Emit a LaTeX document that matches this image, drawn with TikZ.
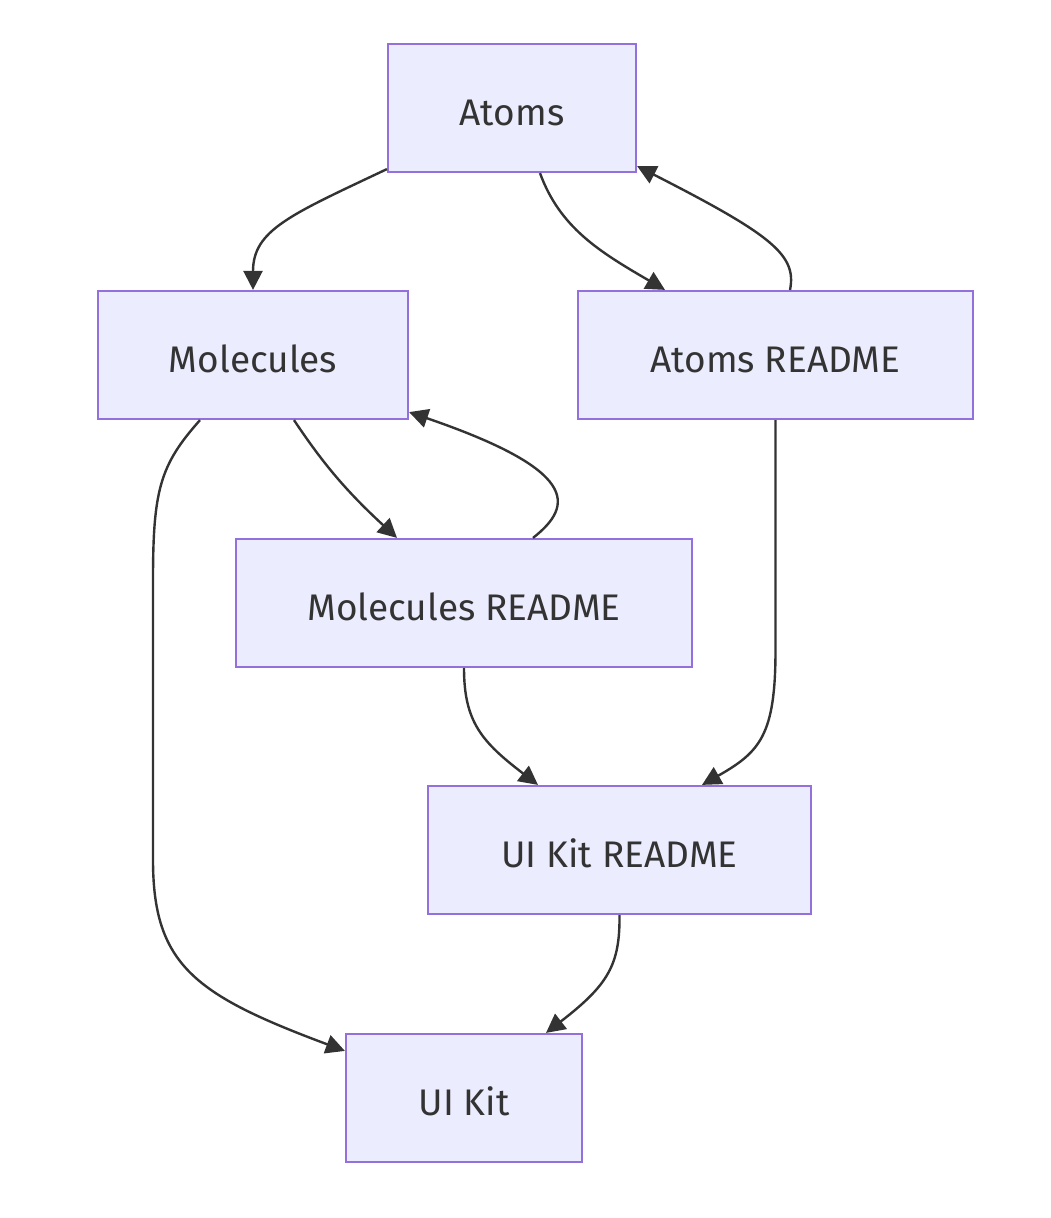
\documentclass[tikz,border=0pt]{standalone}
\usepackage{fontspec}
\setmainfont{Fira Sans}
\usetikzlibrary{arrows.meta}
\definecolor{nodefill}{HTML}{ECECFF}
\definecolor{nodeborder}{HTML}{9370DB}
\definecolor{ink}{HTML}{333333}
\tikzset{
  box/.style={draw=nodeborder, fill=nodefill, line width=2.2pt, minimum height=128pt, inner sep=0pt,
    text height=34pt, text depth=0pt,
    text=ink, font=\fontsize{37}{44}\selectfont},
  link/.style={draw=ink, line width=2.4pt, -{Triangle[length=19pt,width=19pt]}}
}
\begin{document}
\begin{tikzpicture}[x=1pt,y=-1pt]
\useasboundingbox (0,0) rectangle (1050,1218);
\node[box, minimum width=248pt] (A) at (512,108) {Atoms};
\node[box, minimum width=310pt] (M) at (253,355) {Molecules};
\node[box, minimum width=395pt] (AR) at (775.5,355) {Atoms README};
\node[box, minimum width=456pt] (MR) at (464,603) {Molecules README};
\node[box, minimum width=383pt] (UKR) at (619.5,850) {UI Kit README};
\node[box, minimum width=236pt] (UK) at (464,1098) {UI Kit};

\draw[link] ([yshift=4pt]A.south west) .. controls (290,215) and (253,230) .. (M.north);
\draw[link] ([xshift=28pt]A.south) .. controls (560,228) and (600,252) .. ([xshift=-110.5pt]AR.north);
\draw[link] ([xshift=14.5pt]AR.north) .. controls (797,255) and (772,235) .. ([yshift=7pt]A.south east);
\draw[link] ([xshift=41pt]M.south) .. controls (322,462) and (345,490) .. ([xshift=-67pt]MR.north);
\draw[link] ([xshift=69pt]MR.north) .. controls (575,505) and (578,470) .. ([yshift=8pt]M.south east);
\draw[link] ([xshift=-53pt]M.south) .. controls (160,465) and (153,490) .. (153,580) -- (153,860)
  .. controls (153,965) and (195,995) .. ([yshift=-18pt]UK.north west);
\draw[link] (AR.south) -- (775.5,650) .. controls (775.5,735) and (760,752) .. ([xshift=82.5pt]UKR.north);
\draw[link] (MR.south) .. controls (464,722) and (482,742) .. ([xshift=-81.5pt]UKR.north);
\draw[link] (UKR.south) .. controls (620,965) and (608,985) .. ([xshift=82pt]UK.north);
\end{tikzpicture}
\end{document}
